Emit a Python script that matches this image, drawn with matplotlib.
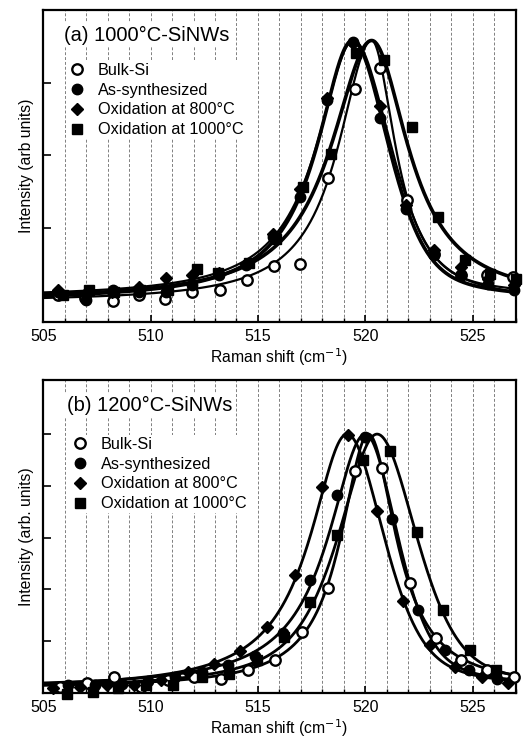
import numpy as np
import matplotlib
matplotlib.use("Agg")
import matplotlib.pyplot as plt
from matplotlib.lines import Line2D
from matplotlib.ticker import MultipleLocator

plt.rcParams['font.family'] = ['Liberation Sans', 'DejaVu Sans']

labels = ["Bulk-Si", "As-synthesized", "Oxidation at 800°C", "Oxidation at 1000°C"]

# ---------------- panel (a): 1000°C-SiNWs ----------------
bulk_a_x = [505.70, 506.95, 508.26, 509.47, 510.67, 511.95, 513.23, 514.47, 515.73, 516.97,
            518.25, 519.52, 520.68, 521.93, 523.20, 524.45, 525.65, 526.90]
bulk_a_y = [0.020, 0.010, 0.000, 0.020, 0.006, 0.030, 0.035, 0.070, 0.118, 0.125,
            0.420, 0.727, 0.800, 0.345, 0.160, 0.088, 0.087, 0.081]
asyn_a_x = [505.70, 506.99, 508.23, 509.47, 510.70, 511.92, 513.20, 514.45, 515.70, 516.97,
            518.20, 519.45, 520.70, 521.90, 523.20, 524.45, 525.70, 526.93]
asyn_a_y = [0.029, 0.003, 0.035, 0.030, 0.030, 0.052, 0.087, 0.121, 0.219, 0.357,
            0.690, 0.891, 0.627, 0.316, 0.156, 0.087, 0.058, 0.035]
ox8_a_x = [505.70, 506.95, 508.20, 509.47, 510.70, 511.92, 513.20, 514.45, 515.70, 516.97,
           518.20, 519.45, 520.70, 521.90, 523.20, 524.45, 525.70, 526.93]
ox8_a_y = [0.035, 0.024, 0.030, 0.046, 0.078, 0.087, 0.095, 0.127, 0.230, 0.385,
           0.696, 0.886, 0.670, 0.330, 0.173, 0.115, 0.075, 0.052]
ox10_a_x = [505.93, 507.14, 508.30, 509.50, 510.80, 512.18, 513.14, 514.60, 515.85, 517.11,
            518.40, 519.55, 520.88, 522.20, 523.37, 524.64, 525.80, 527.00]
ox10_a_y = [0.018, 0.035, 0.030, 0.035, 0.035, 0.107, 0.093, 0.128, 0.210, 0.391,
            0.506, 0.851, 0.828, 0.598, 0.288, 0.139, 0.090, 0.075]

# fitted line-shape parameters: centre, peak, baseline, left HWHM, right HWHM, left/right Lorentz fraction
fit_a_bulk = [520.30, 0.895, -0.005, 1.90, 1.35, 1.0, 1.0]
fit_a_asyn = [519.40, 0.895, 0.000, 2.00, 2.00, 1.0, 0.5]
fit_a_ox8 = [519.45, 0.895, 0.010, 2.07, 2.05, 1.0, 0.5]
fit_a_ox10 = [520.30, 0.895, 0.000, 2.30, 2.05, 1.0, 1.0]

# ---------------- panel (b): 1200°C-SiNWs ----------------
bulk_b_x = [505.78, 507.02, 508.29, 509.54, 510.79, 512.03, 513.28, 514.52, 515.79, 517.03,
            518.27, 519.52, 520.79, 522.08, 523.29, 524.44, 525.68, 526.92]
bulk_b_y = [0.023, 0.039, 0.062, 0.023, 0.049, 0.062, 0.053, 0.090, 0.127, 0.234,
            0.404, 0.858, 0.871, 0.423, 0.212, 0.129, 0.090, 0.060]
asyn_b_x = [506.17, 507.41, 508.65, 509.89, 511.13, 512.38, 513.62, 514.86, 516.15, 517.42,
            518.69, 519.98, 521.23, 522.44, 523.71, 524.84, 526.12]
asyn_b_y = [0.030, 0.030, 0.036, 0.047, 0.062, 0.081, 0.107, 0.142, 0.230, 0.436,
            0.764, 0.990, 0.674, 0.322, 0.168, 0.088, 0.056]
ox8_b_x = [505.47, 506.72, 507.97, 509.22, 510.47, 511.72, 512.97, 514.16, 515.40, 516.72,
           517.97, 519.21, 520.53, 521.77, 523.01, 524.17, 525.42, 526.66]
ox8_b_y = [0.020, 0.025, 0.030, 0.030, 0.050, 0.080, 0.111, 0.161, 0.255, 0.455,
           0.794, 0.996, 0.704, 0.356, 0.185, 0.100, 0.062, 0.039]
ox10_b_x = [506.09, 507.30, 508.50, 509.80, 511.05, 512.40, 513.66, 514.94, 516.21, 517.42,
            518.69, 519.90, 521.15, 522.39, 523.63, 524.87, 526.10]
ox10_b_y = [-0.005, 0.005, 0.020, 0.030, 0.030, 0.060, 0.072, 0.127, 0.217, 0.352,
            0.610, 0.900, 0.935, 0.622, 0.320, 0.168, 0.090]

fit_b_bulk = [520.15, 1.00, 0.020, 1.57, 1.57, 1.0, 1.0]
fit_b_asyn = [520.00, 1.00, 0.020, 2.10, 1.80, 1.0, 0.5]
fit_b_ox8 = [519.15, 1.00, 0.015, 2.10, 2.05, 1.0, 0.5]
fit_b_ox10 = [520.55, 1.00, 0.015, 2.20, 2.20, 0.8, 0.5]

x_range = [505, 527]


def lineshape(x, p):
    c, h, b, wl, wr, el, er = p
    w = np.where(x < c, wl, wr)
    eta = np.where(x < c, el, er)
    r2 = ((x - c) / w) ** 2
    return b + (h - b) * (eta / (1 + r2) + (1 - eta) * np.exp(-np.log(2) * r2))


W, H = 525, 738
fig = plt.figure(figsize=(W / 100, H / 100), dpi=100)

def px_axes(l, t, r, b):
    return fig.add_axes([l / W, 1 - b / H, (r - l) / W, (b - t) / H])

ax_a = px_axes(43.3, 10, 515.5, 322)
ax_b = px_axes(43.3, 380, 515.5, 693)

panels = [
    dict(ax=ax_a,
         series=[(bulk_a_x, bulk_a_y, fit_a_bulk, 1.6),
                 (asyn_a_x, asyn_a_y, fit_a_asyn, 2.6),
                 (ox8_a_x, ox8_a_y, fit_a_ox8, 1.6),
                 (ox10_a_x, ox10_a_y, fit_a_ox10, 2.6)],
         ylim=(-0.074, 1.0), yticks=[0.25, 0.5, 0.75],
         ylabel="Intensity (arb units)",
         title="(a) 1000°C-SiNWs", title_xy=(64, 35),
         leg_xy=(68, 61)),
    dict(ax=ax_b,
         series=[(bulk_b_x, bulk_b_y, fit_b_bulk, 2.0),
                 (asyn_b_x, asyn_b_y, fit_b_asyn, 2.0),
                 (ox8_b_x, ox8_b_y, fit_b_ox8, 2.0),
                 (ox10_b_x, ox10_b_y, fit_b_ox10, 2.0)],
         ylim=(0.0, 1.209), yticks=[0.2, 0.4, 0.6, 0.8, 1.0],
         ylabel="Intensity (arb. units)",
         title="(b) 1200°C-SiNWs", title_xy=(67, 405),
         leg_xy=(71, 435)),
]

mstyles = [dict(marker='o', ms=7.5, mfc='white', mec='black', mew=1.7),
           dict(marker='o', ms=7.5, mfc='black', mec='black', mew=1.0),
           dict(marker='D', ms=6.3, mfc='black', mec='black', mew=1.0),
           dict(marker='s', ms=7.5, mfc='black', mec='black', mew=1.0)]

xf = np.linspace(x_range[0], x_range[1], 600)

for P in panels:
    ax = P['ax']
    ax.set_xlim(*x_range)
    ax.set_ylim(*P['ylim'])
    for g in range(506, 527):
        ax.axvline(g, color='#808080', lw=0.7, ls=(0, (3, 2)), zorder=0)
    for (sx, sy, fp, lw), st in zip(P['series'], mstyles):
        ax.plot(xf, lineshape(xf, fp), color='black', lw=lw, zorder=2)
    for (sx, sy, fp, lw), st in zip(P['series'], mstyles):
        ax.plot(sx, sy, ls='none', zorder=3, clip_on=False, **st)
    ax.xaxis.set_major_locator(MultipleLocator(5))
    ax.xaxis.set_minor_locator(MultipleLocator(1))
    ax.set_yticks(P['yticks'])
    ax.set_yticklabels([])
    ax.tick_params(axis='x', which='major', direction='in', length=5, width=1.2,
                   labelsize=11.5, pad=5, top=False)
    ax.tick_params(axis='x', which='minor', direction='in', length=3, width=1.0, top=False)
    ax.tick_params(axis='y', which='both', direction='in', length=6, width=1.2, right=False)
    for s in ax.spines.values():
        s.set_linewidth(1.6)
    ax.set_xlabel("Raman shift (cm$^{-1}$)", fontsize=11.3, labelpad=2)
    ax.set_ylabel(P['ylabel'], fontsize=11.3, labelpad=3)

    tx, ty = P['title_xy']
    fig.text(tx / W, 1 - ty / H, P['title'], fontsize=14.5, ha='left', va='center',
             bbox=dict(facecolor='white', edgecolor='none', pad=1.5))

    handles = [Line2D([], [], ls='none', **st) for st in mstyles]
    lx, ly = P['leg_xy']
    leg = ax.legend(handles, labels, loc='upper left',
                    bbox_to_anchor=(lx / W, 1 - ly / H), bbox_transform=fig.transFigure,
                    frameon=True, fontsize=11.7, handlelength=0.9, handletextpad=0.85,
                    labelspacing=0.3, borderpad=0.1, borderaxespad=0)
    leg.get_frame().set_facecolor('white')
    leg.get_frame().set_edgecolor('none')
    leg.get_frame().set_alpha(1)
    leg.set_zorder(5)

fig.savefig("out.png", dpi=100)
